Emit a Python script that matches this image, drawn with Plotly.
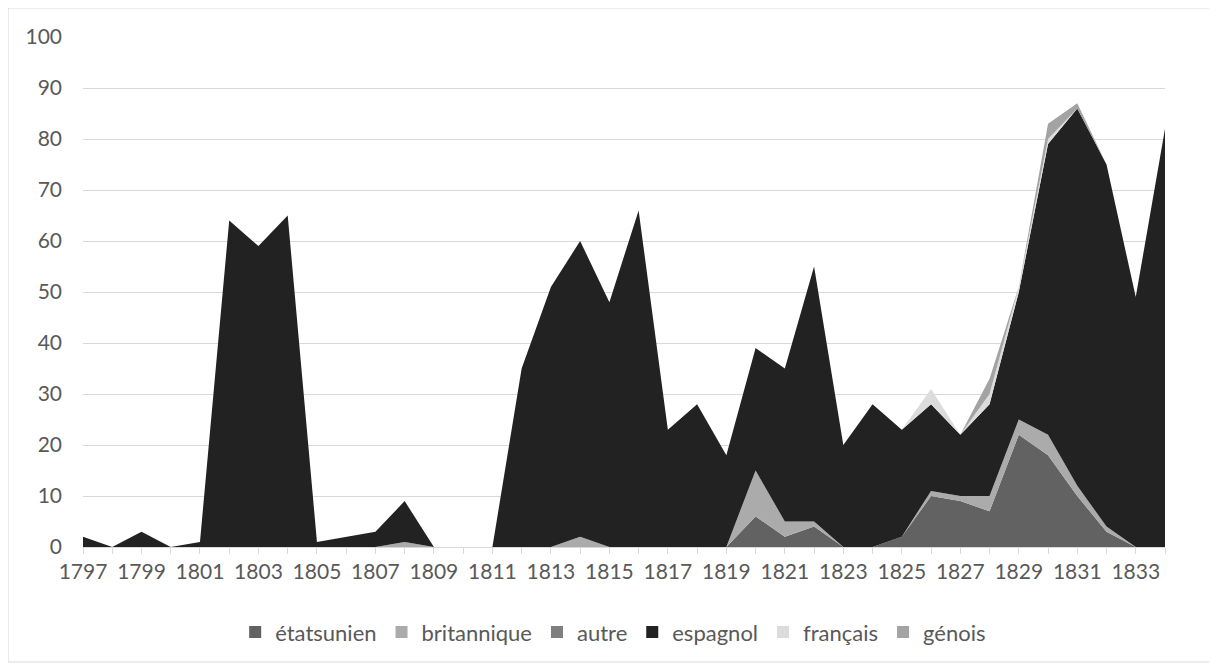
import plotly.graph_objects as go

years = list(range(1797, 1835))

etatsunien = [0, 0, 0, 0, 0, 0, 0, 0, 0, 0, 0, 0, 0, 0, 0, 0, 0, 0, 0, 0, 0, 0, 0,
              6, 2, 4, 0, 0, 2, 10, 9, 7, 22, 18, 10, 3, 0, 0]
britannique = [0, 0, 0, 0, 0, 0, 0, 0, 0, 0, 0, 1, 0, 0, 0, 0, 0, 2, 0, 0, 0, 0, 0,
               9, 3, 1, 0, 0, 0, 1, 1, 3, 3, 4, 2, 1, 0, 0]
autre = [0] * 38
espagnol = [2, 0, 3, 0, 1, 64, 59, 65, 1, 2, 3, 8, 0, 0, 0, 35, 51, 58, 48, 66, 23, 28, 18,
            24, 30, 50, 20, 28, 21, 17, 12, 18, 25, 57, 74, 71, 49, 82]
francais = [0, 0, 0, 0, 0, 0, 0, 0, 0, 0, 0, 0, 0, 0, 0, 0, 0, 0, 0, 0, 0, 0, 0,
            0, 0, 0, 0, 0, 0, 3, 0, 2, 1, 1, 0, 0, 0, 0]
genois = [0, 0, 0, 0, 0, 0, 0, 0, 0, 0, 0, 0, 0, 0, 0, 0, 0, 0, 0, 0, 0, 0, 0,
          0, 0, 0, 0, 0, 0, 0, 0, 3, 0, 3, 1, 0, 0, 0]

series = [
    ("étatsunien", etatsunien, "#626262"),
    ("britannique", britannique, "#ababab"),
    ("autre", autre, "#7f7f7f"),
    ("espagnol", espagnol, "#222222"),
    ("français", francais, "#dcdcdc"),
    ("génois", genois, "#a3a3a3"),
]

fig = go.Figure()
for name, vals, col in series:
    fig.add_trace(go.Scatter(
        x=years, y=vals, name=name, mode="lines",
        stackgroup="one", line=dict(width=0, color=col),
        fillcolor=col, showlegend=False, legendgroup=name,
    ))
# legend entries with square swatches
for name, vals, col in series:
    fig.add_trace(go.Scatter(
        x=[None], y=[None], name=name, mode="markers",
        marker=dict(symbol="square", size=12, color=col),
        showlegend=True, legendgroup=name,
    ))

font_fam = "Lato, 'Open Sans', sans-serif"
fig.update_layout(
    width=1209, height=660,
    margin=dict(l=75, r=52, t=29, b=121),
    paper_bgcolor="white", plot_bgcolor="white",
    font=dict(family=font_fam, size=21, color="#595959"),
    showlegend=True,
    legend=dict(orientation="h", x=0.49, xanchor="center", y=-0.167, yanchor="middle",
                font=dict(size=22, color="#595959"), itemwidth=30,
                traceorder="normal"),
    xaxis=dict(range=[1797, 1834], tick0=1797, dtick=2, showgrid=False,
               showline=True, linecolor="#d9d9d9", linewidth=1,
               ticks="outside", ticklen=6, tickcolor="#d9d9d9",
               minor=dict(dtick=1, ticks="outside", ticklen=6, tickcolor="#d9d9d9"),
               zeroline=False, tickfont=dict(size=21, color="#595959")),
    yaxis=dict(range=[0, 100], dtick=10, showgrid=True, gridcolor="#d9d9d9",
               gridwidth=1, zeroline=False, showline=False, ticks="",
               ticklabelstandoff=20,
               tickfont=dict(size=21, color="#595959")),
    shapes=[dict(type="rect", xref="paper", yref="paper",
                 x0=-0.0693, x1=1.0425, y0=-0.2255, y1=1.0569,
                 line=dict(color="#d9d9d9", width=1), layer="below")],
)

fig.write_html("out.html")
